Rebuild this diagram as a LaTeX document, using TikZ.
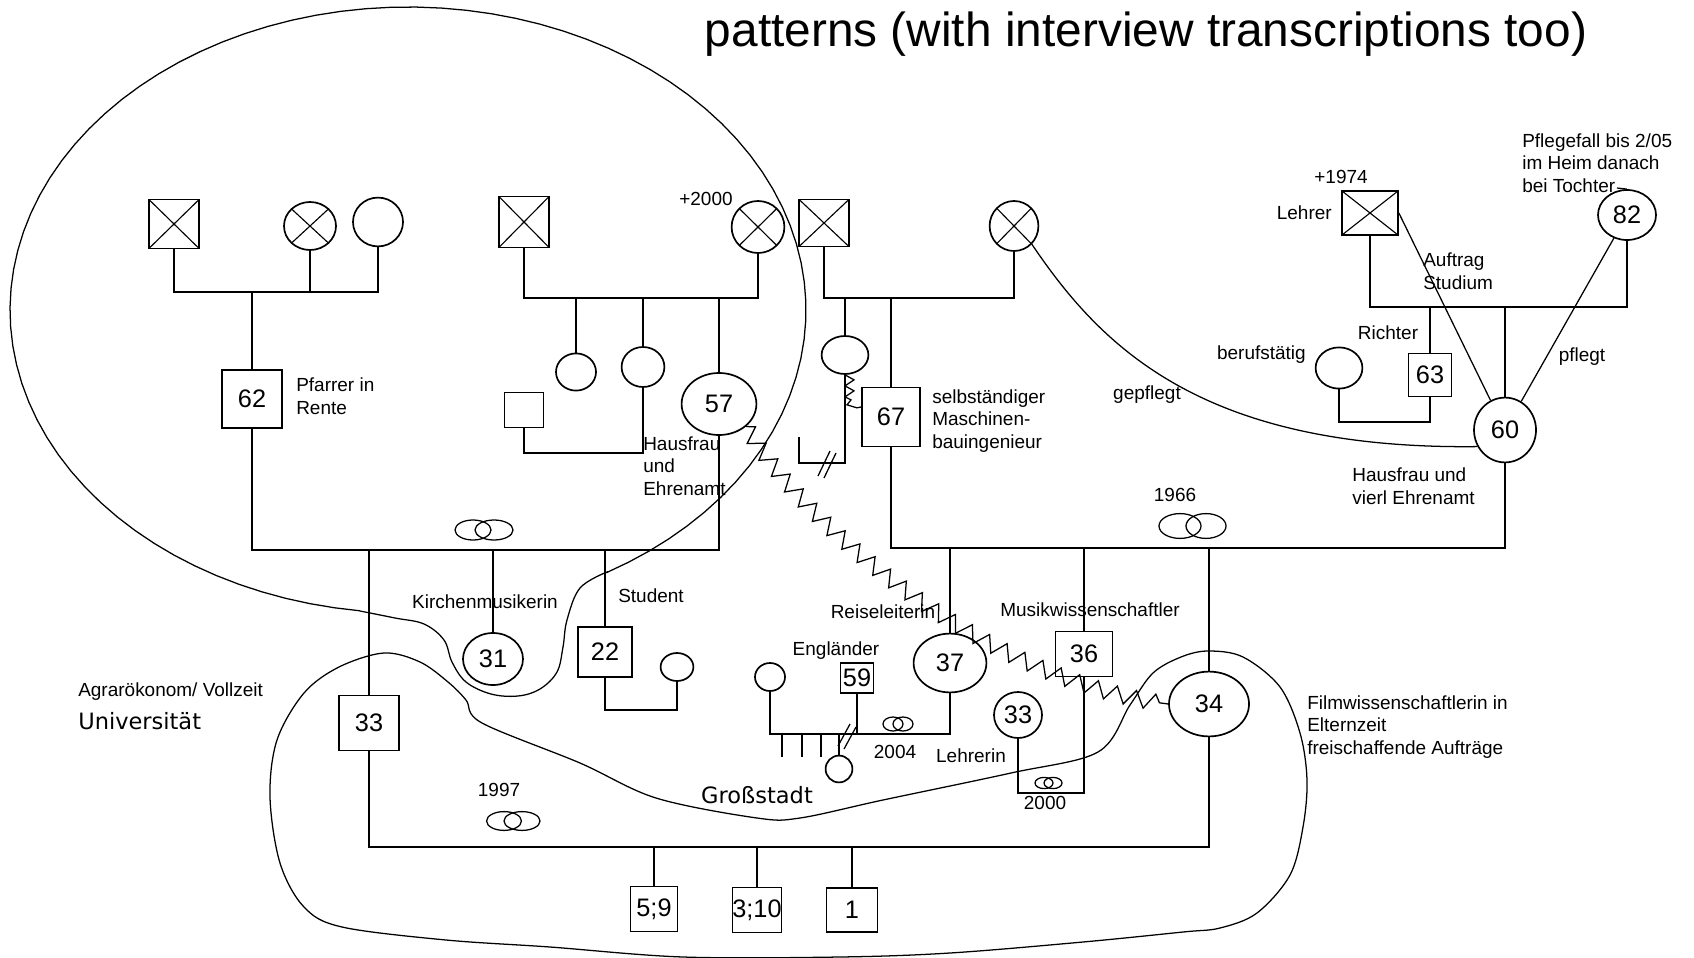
\documentclass[tikz,border=0pt]{standalone}
\usepackage{fontspec}
\setmainfont{Liberation Sans}
\newfontfamily\dejavu{DejaVu Sans}
\usetikzlibrary{shapes.geometric}
\usetikzlibrary{decorations.pathmorphing}

\newcommand{\lab}{\fontsize{13.5}{16}\selectfont}
\newcommand{\zahl}{\fontsize{18}{20}\selectfont}
\newcommand{\gross}{\dejavu\fontsize{16}{18}\selectfont}
\newcommand{\titel}{\fontsize{34}{40}\selectfont}

\tikzset{
  mann/.style={draw, rectangle, line width=1.2pt, inner sep=0pt, font=\zahl},
  frau/.style={draw, ellipse, line width=1.2pt, inner sep=0pt, font=\zahl},
  tot/.style={path picture={\draw[line width=0.8pt]
      (path picture bounding box.north west) -- (path picture bounding box.south east)
      (path picture bounding box.north east) -- (path picture bounding box.south west);}},
  ring/.style={draw, ellipse, inner sep=0pt, line width=0.9pt},
  linie/.style={line width=1.3pt},
  grenze/.style={line width=0.9pt},
  konflikt/.style={line width=0.9pt, decorate,
      decoration={zigzag, segment length=0.5cm, amplitude=0.2cm}},
  txt/.style={font=\lab, inner sep=0pt, align=left},
}

\begin{document}
\begin{tikzpicture}[x=0.025cm, y=-0.025cm]
  \useasboundingbox (0,0) rectangle (1694,958);

  \node[font=\titel, inner sep=0pt] (titel) at (1146,34) {patterns (with interview transcriptions too)};

  % Grosseltern vaeterlich
  \node[mann, tot, minimum width=1.25cm, minimum height=1.22cm] (gfA) at (174,224) {};
  \node[frau, tot, minimum width=1.3cm, minimum height=1.2cm] (gmA) at (310,226) {};
  \node[frau, minimum width=1.25cm, minimum height=1.22cm] (gmA2) at (378,222) {};
  \coordinate (kA) at (252,292);
  \node[mann, minimum width=1.5cm, minimum height=1.45cm] (p62) at (252,399) {62};
  \node[txt, anchor=west] (t62) at (296,396) {Pfarrer in\\Rente};

  \draw[linie] (gfA) |- (kA) -| (gmA2);
  \draw[linie] (gmA) -- (gmA |- kA);
  \draw[linie] (kA) -- (p62);

  % Grosseltern muetterlich
  \node[mann, tot, minimum width=1.25cm, minimum height=1.27cm] (gfB) at (524,222) {};
  \node[frau, tot, minimum width=1.32cm, minimum height=1.3cm] (gmB) at (758,227) {};
  \node[txt] (t2000a) at (706,199) {+2000};
  \coordinate (kB) at (643,298);
  \node[frau, minimum width=1.0cm, minimum height=0.93cm] (c1) at (576,372) {};
  \node[frau, minimum width=1.07cm, minimum height=1.0cm] (c2) at (643,367) {};
  \node[mann, minimum width=0.97cm, minimum height=0.88cm] (sqB) at (524,410) {};
  \node[frau, minimum width=1.87cm, minimum height=1.55cm] (p57) at (719,404) {57};
  \node[txt, anchor=west] (t57) at (643,466) {Hausfrau\\und\\Ehrenamt};
  \coordinate (mB) at (643,453);

  \draw[linie] (gfB) |- (kB) -| (gmB);
  \draw[linie] (c1 |- kB) -- (c1);
  \draw[linie] (kB) -- (c2);
  \draw[linie] (p57 |- kB) -- (p57);
  \draw[linie] (sqB) |- (mB) -- (c2);

  % Grosseltern des Mannes
  \node[mann, tot, minimum width=1.25cm, minimum height=1.18cm] (gfC) at (824,223) {};
  \node[frau, tot, minimum width=1.22cm, minimum height=1.25cm] (gmC) at (1014,226) {};
  \coordinate (kC) at (891,298);
  \node[frau, minimum width=1.17cm, minimum height=0.95cm] (e1) at (845,355) {};
  \node[mann, minimum width=1.45cm, minimum height=1.47cm] (p67) at (891,417) {67};
  \node[txt, anchor=west] (t67) at (932,421) {selbständiger\\Maschinen-\\bauingenieur};
  \coordinate (dE) at (799,437);

  \draw[linie] (gfC) |- (kC) -| (gmC);
  \draw[linie] (e1 |- kC) -- (e1);
  \draw[linie] (kC) -- (p67);
  \draw[linie] (e1.south) -- ++(0,88) -| (dE);
  \draw[grenze] (818,476) -- (830,451) (824,478) -- (836,453);
  \draw[grenze] (e1.south) -- ++(9,5) -- ++(-9,6) -- ++(9,5) -- ++(-9,6)
    -- ++(6,3) -- ++(-4,5) -- ++(10,3) -- ([yshift=0.25cm]p67.west);

  % Eltern der Frau
  \node[mann, tot, minimum width=1.4cm, minimum height=1.1cm] (gfD) at (1370,213) {};
  \node[txt] (t1974) at (1341,177) {+1974};
  \node[txt, anchor=east] (tLehrer) at (1332,213) {Lehrer};
  \node[frau, minimum width=1.45cm, minimum height=1.25cm] (p82) at (1627,215) {82};
  \node[txt, anchor=west] (tPflege) at (1522,163) {Pflegefall bis 2/05\\im Heim danach\\bei Tochter};
  \coordinate (tE) at (1617,188);
  \coordinate (kD) at (1505,307);
  \node[mann, minimum width=1.07cm, minimum height=1.07cm] (p63) at (1430,375) {63};
  \node[txt] (tRichter) at (1388,333) {Richter};
  \node[frau, minimum width=1.17cm, minimum height=1.03cm] (bf) at (1339,368) {};
  \node[txt, anchor=east] (tBeruf) at (1306,355) {berufstätig};
  \coordinate (mD) at (1430,422);
  \node[frau, minimum width=1.55cm, minimum height=1.62cm] (p60) at (1505,430) {60};
  \node[txt, anchor=west] (t60) at (1352,486) {Hausfrau und\\vierl Ehrenamt};
  \node[txt, anchor=west] (tAuftrag) at (1423,271) {Auftrag\\Studium};
  \node[txt] (tPflegt) at (1582,357) {pflegt};
  \node[txt] (tGepflegt) at (1147,395) {gepflegt};

  \draw[linie] (gfD) |- (kD) -| (p82);
  \draw[linie] (p63 |- kD) -- (p63);
  \draw[linie] (kD) -- (p60);
  \draw[linie] (bf) |- (mD) -- (p63);
  \draw[grenze] (gfD.east) -- (p60);
  \draw[grenze] (p82) -- (p60);
  \draw[grenze] (tE) -- (p82.north);
  \draw[grenze] (gmC.south east) .. controls (1100,345) and (1200,450) .. (p60.211);

  % Paar 62 / 57
  \coordinate (kL) at (493,550);
  \node[ring, minimum width=0.9cm, minimum height=0.5cm] (rL1) at (473,530) {};
  \node[ring, minimum width=0.95cm, minimum height=0.5cm] (rL2) at (494,530) {};
  \node[mann, minimum width=1.5cm, minimum height=1.37cm] (p33m) at (369,723) {33};
  \node[frau, minimum width=1.5cm, minimum height=1.3cm] (p31) at (493,659) {31};
  \node[mann, minimum width=1.35cm, minimum height=1.25cm] (p22) at (605,652) {22};
  \node[frau, minimum width=0.82cm, minimum height=0.7cm] (f22) at (677,667) {};
  \coordinate (m22) at (677,710);
  \node[txt] (tKirche) at (485,602) {Kirchenmusikerin};
  \node[txt] (tStudent) at (651,596) {Student};
  \node[txt, anchor=west] (tAgrar) at (78,692) {Agrarökonom/ Vollzeit};
  \node[inner sep=0pt, font=\gross, anchor=west] (tUni) at (78,721) {Universität};

  \draw[linie] (p62) |- (kL) -| (p57);
  \draw[linie] (p33m |- kL) -- (p33m);
  \draw[linie] (kL) -- (p31);
  \draw[linie] (p22 |- kL) -- (p22);
  \draw[linie] (p22) |- (m22) -- (f22);

  % Paar 67 / 60
  \coordinate (kR) at (1084,548);
  \node[txt] (t1966) at (1175,495) {1966};
  \node[ring, minimum width=1.05cm, minimum height=0.62cm] (rR1) at (1180,526) {};
  \node[ring, minimum width=1.0cm, minimum height=0.62cm] (rR2) at (1206,526) {};
  \node[frau, minimum width=1.82cm, minimum height=1.47cm] (p37) at (950,663) {37};
  \node[mann, minimum width=1.42cm, minimum height=1.12cm] (p36) at (1084,654) {36};
  \node[frau, minimum width=2.0cm, minimum height=1.62cm] (p34) at (1209,704) {34};
  \node[txt] (tReise) at (883,612) {Reiseleiterin};
  \node[txt] (tMusik) at (1090,610) {Musikwissenschaftler};
  \node[txt, anchor=west] (tFilm) at (1307,727) {Filmwissenschaftlerin in\\Elternzeit\\freischaffende Aufträge};

  \draw[linie] (p67) |- (kR) -| (p60);
  \draw[linie] (p37 |- kR) -- (p37);
  \draw[linie] (kR) -- (p36);
  \draw[linie] (p34 |- kR) -- (p34);

  % 37 mit Englaender
  \node[mann, minimum width=0.83cm, minimum height=0.75cm] (p59) at (857,678) {59};
  \node[txt] (tEngl) at (836,651) {Engländer};
  \node[frau, minimum width=0.75cm, minimum height=0.7cm] (ex59) at (770,677) {};
  \node[frau, minimum width=0.67cm, minimum height=0.67cm] (k59) at (839,769) {};
  \coordinate (m37) at (857,734);
  \node[ring, minimum width=0.5cm, minimum height=0.35cm] (r04a) at (893,724) {};
  \node[ring, minimum width=0.5cm, minimum height=0.35cm] (r04b) at (903,724) {};
  \node[txt] (t2004) at (895,752) {2004};

  \draw[linie] (ex59) |- (m37) -| (p37);
  \draw[linie] (p59) -- (m37);
  \draw[linie] (k59 |- m37) -- (k59);
  \foreach \x in {782,802,821}
    \draw[linie] (\x,734) -- (\x,757);
  \draw[grenze] (838,746) -- (850,724) (844,749) -- (856,727);

  % 36 mit Lehrerin
  \node[frau, minimum width=1.2cm, minimum height=1.15cm] (p33w) at (1018,715) {33};
  \node[txt] (tLehrerin) at (971,756) {Lehrerin};
  \coordinate (m36) at (1084,793);
  \node[ring, minimum width=0.45cm, minimum height=0.28cm] (r00a) at (1044,783) {};
  \node[ring, minimum width=0.45cm, minimum height=0.28cm] (r00b) at (1053,783) {};
  \node[txt] (t2000b) at (1045,803) {2000};

  \draw[linie] (p33w) |- (m36) -- (p36);

  % Paar 33 / 34 und Kinder
  \coordinate (kU) at (757,847);
  \node[txt] (t1997) at (499,790) {1997};
  \node[ring, minimum width=0.87cm, minimum height=0.47cm] (rU1) at (504,821) {};
  \node[ring, minimum width=0.9cm, minimum height=0.47cm] (rU2) at (522,821) {};
  \node[mann, minimum width=1.17cm, minimum height=1.12cm] (k1) at (654,909) {5;9};
  \node[mann, minimum width=1.2cm, minimum height=1.12cm] (k2) at (757,910) {3;10};
  \node[mann, minimum width=1.27cm, minimum height=1.1cm] (k3) at (852,910) {1};
  \node[inner sep=0pt, font=\gross] (tGross) at (757,795) {Großstadt};

  \draw[linie] (p33m) |- (kU) -| (p34);
  \draw[linie] (k1 |- kU) -- (k1);
  \draw[linie] (kU) -- (k2);
  \draw[linie] (k3 |- kU) -- (k3);

  % Konflikt 57 -- 34
  \draw[konflikt] (p57.south east) .. controls (800,520) and (980,680) .. (p34.west);

  % Grenzen der Familiensysteme
  \draw[grenze] plot[smooth, tension=0.6] coordinates {(607,572) (580,588) (567,620)
      (563,647) (557,672) (540,689) (518,696) (491,694) (466,682) (452,662) (444,640)
      (424,624) (395,618) (360,611)}
    -- plot[domain=97:420, samples=90] ({408+398*cos(\x)},{310+303*sin(\x)}) -- cycle;
  \draw[grenze] plot[smooth cycle, tension=0.55] coordinates {(482,723) (580,763)
      (656,798) (757,818) (800,818) (883,800) (1011,773) (1098,752) (1130,705)
      (1153,673) (1181,657) (1208,651) (1243,657) (1280,687) (1300,733) (1307,780)
      (1303,827) (1290,875) (1257,913) (1220,928) (1183,932) (1083,942) (950,953)
      (840,957) (683,957) (550,947) (446,940) (342,927) (304,907) (280,863) (270,797)
      (277,740) (304,693) (339,667) (384,653) (420,662) (448,682) (466,700)};
\end{tikzpicture}
\end{document}
